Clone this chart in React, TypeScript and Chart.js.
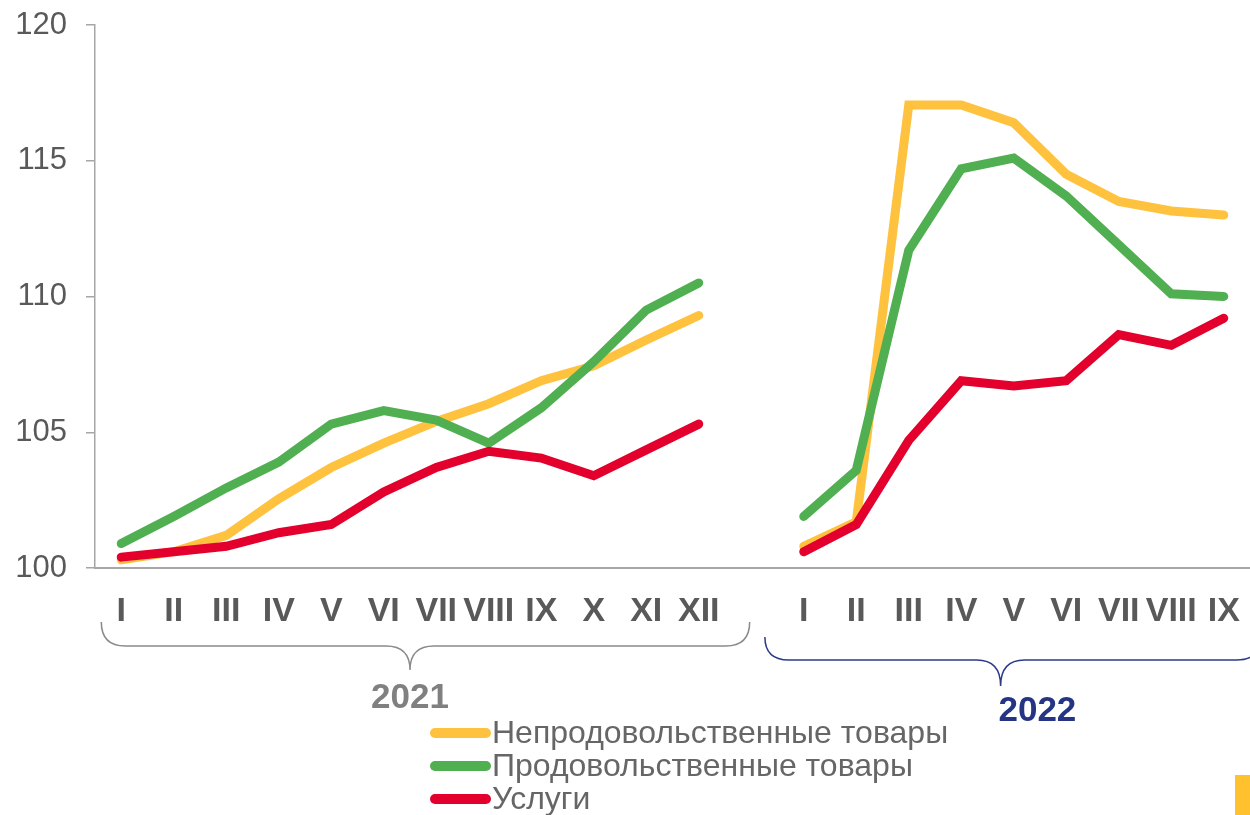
import React, { useEffect, useRef } from "react";
import { Chart, registerables } from "chart.js";

Chart.register(...registerables);

const months2021 = ["I", "II", "III", "IV", "V", "VI", "VII", "VIII", "IX", "X", "XI", "XII"];
const months2022 = ["I", "II", "III", "IV", "V", "VI", "VII", "VIII", "IX"];
const categories = [...months2021, "", ...months2022];

const nonFood2021 = [100.3, 100.6, 101.2, 102.55, 103.7, 104.6, 105.4, 106.05, 106.9, 107.45, 108.4, 109.3];
const nonFood2022 = [100.8, 101.7, 117.05, 117.05, 116.4, 114.5, 113.5, 113.15, 113.0];
const food2021 = [100.9, 101.9, 102.95, 103.9, 105.3, 105.8, 105.45, 104.6, 105.9, 107.6, 109.5, 110.5];
const food2022 = [101.9, 103.6, 111.7, 114.7, 115.1, 113.7, 111.9, 110.1, 110.0];
const services2021 = [100.4, 100.6, 100.8, 101.3, 101.6, 102.8, 103.7, 104.3, 104.05, 103.4, 104.35, 105.3];
const services2022 = [100.6, 101.6, 104.7, 106.9, 106.7, 106.9, 108.6, 108.2, 109.2];

const seriesNames = ["Непродовольственные товары", "Продовольственные товары", "Услуги"];
const seriesColors = ["#FFC23E", "#50AF50", "#E3002C"];
const yearLabels = ["2021", "2022"];
const yMin = 100;
const yMax = 120;
const yStep = 5;

const FONT = "'Liberation Sans', Arial, sans-serif";

function join(a: number[], b: number[]): (number | null)[] {
  return [...a, null, ...b];
}

function drawBrace(
  ctx: CanvasRenderingContext2D,
  x0: number,
  x1: number,
  xm: number,
  yTop: number,
  yMid: number,
  yTip: number,
  color: string
) {
  const r = 24;
  ctx.save();
  ctx.strokeStyle = color;
  ctx.lineWidth = 1.5;
  ctx.beginPath();
  ctx.moveTo(x0, yTop);
  ctx.quadraticCurveTo(x0, yMid, x0 + r, yMid);
  ctx.lineTo(xm - r, yMid);
  ctx.quadraticCurveTo(xm, yMid, xm, yTip);
  ctx.quadraticCurveTo(xm, yMid, xm + r, yMid);
  ctx.lineTo(x1 - r, yMid);
  ctx.quadraticCurveTo(x1, yMid, x1, yTop);
  ctx.stroke();
  ctx.restore();
}

const decorPlugin = {
  id: "decor",
  afterDraw(chart: any) {
    const ctx: CanvasRenderingContext2D = chart.ctx;
    const xs = chart.scales.x;
    const px = (v: number) => xs.getPixelForValue(v);
    const n1 = months2021.length;
    const start2 = n1 + 1;
    const n2 = months2022.length;

    // braces
    drawBrace(ctx, px(-0.38), px(n1 - 0.03), px((n1 - 1) / 2), 622, 646, 670, "#8a8a8a");
    drawBrace(ctx, px(start2 - 0.74), px(start2 + n2 - 0.3), px(start2 + 3.75), 637, 660, 686, "#2B3A8A");

    // year labels
    ctx.save();
    ctx.textAlign = "center";
    ctx.textBaseline = "middle";
    ctx.font = `bold 35px ${FONT}`;
    ctx.fillStyle = "#808080";
    ctx.fillText(yearLabels[0], px((n1 - 1) / 2), 698);
    ctx.fillStyle = "#253583";
    ctx.fillText(yearLabels[1], px(start2 + 4.45), 711);
    ctx.restore();

    // legend
    ctx.save();
    const rows = [733, 766, 799];
    chart.data.datasets.forEach((ds: any, i: number) => {
      const y = rows[i];
      ctx.strokeStyle = ds.borderColor;
      ctx.lineWidth = 10;
      ctx.lineCap = "round";
      ctx.beginPath();
      ctx.moveTo(435, y);
      ctx.lineTo(486, y);
      ctx.stroke();
      ctx.fillStyle = "#666666";
      ctx.font = `32px ${FONT}`;
      ctx.textAlign = "left";
      ctx.textBaseline = "middle";
      ctx.fillText(ds.label, 492, y + 1);
    });
    ctx.restore();

    // corner accent
    ctx.save();
    ctx.fillStyle = "#FFC12E";
    ctx.fillRect(1235, 775, 15, 40);
    ctx.restore();
  },
};

export default function App() {
  const canvasRef = useRef<HTMLCanvasElement | null>(null);

  useEffect(() => {
    if (!canvasRef.current) return;
    const chart = new Chart(canvasRef.current, {
      type: "line",
      data: {
        labels: categories,
        datasets: [
          {
            label: seriesNames[0],
            data: join(nonFood2021, nonFood2022),
            borderColor: seriesColors[0],
            backgroundColor: seriesColors[0],
            order: 2,
          },
          {
            label: seriesNames[1],
            data: join(food2021, food2022),
            borderColor: seriesColors[1],
            backgroundColor: seriesColors[1],
            order: 1,
          },
          {
            label: seriesNames[2],
            data: join(services2021, services2022),
            borderColor: seriesColors[2],
            backgroundColor: seriesColors[2],
            order: 0,
          },
        ].map((d) => ({
          ...d,
          borderWidth: 9,
          pointRadius: 0,
          pointHoverRadius: 0,
          tension: 0,
          spanGaps: false,
          borderCapStyle: "round" as const,
          borderJoinStyle: "miter" as const,
          fill: false,
        })),
      },
      options: {
        responsive: false,
        animation: false,
        layout: { autoPadding: false, padding: { top: 25, right: 0, bottom: 0, left: 0 } },
        plugins: {
          legend: { display: false },
          tooltip: { enabled: false },
        },
        scales: {
          x: {
            type: "category",
            offset: true,
            grid: { display: false },
            border: { display: true, color: "#A6A6A6", width: 2 },
            ticks: {
              autoSkip: false,
              maxRotation: 0,
              padding: 15,
              color: "#595959",
              font: { family: FONT, size: 34, weight: "bold" },
            },
            afterFit: (scale: any) => {
              scale.height = 247;
              scale.paddingLeft = 0;
              scale.paddingRight = 0;
            },
          },
          y: {
            min: yMin,
            max: yMax,
            ticks: {
              stepSize: yStep,
              padding: 19,
              color: "#595959",
              font: { family: FONT, size: 31 },
            },
            grid: {
              drawOnChartArea: false,
              drawTicks: true,
              tickLength: 9,
              color: "#A6A6A6",
              lineWidth: 1.5,
            },
            border: { display: true, color: "#A6A6A6", width: 1.5 },
            afterFit: (scale: any) => {
              scale.width = 95;
              scale.paddingTop = 0;
              scale.paddingBottom = 0;
            },
          },
        },
      },
      plugins: [decorPlugin],
    });
    return () => chart.destroy();
  }, []);

  return (
    <div style={{ position: "fixed", left: 0, top: 0, width: 1250, height: 815, background: "#fff" }}>
      <canvas ref={canvasRef} width={1250} height={815} style={{ display: "block" }} />
    </div>
  );
}
